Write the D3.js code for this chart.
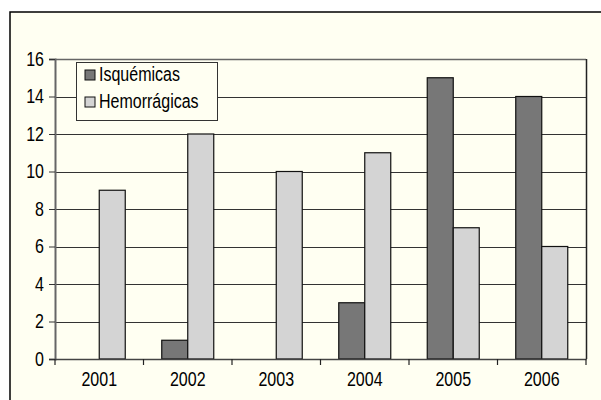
<!DOCTYPE html>
<html><head><meta charset="utf-8">
<script src="https://cdn.jsdelivr.net/npm/d3@7"></script>
<style>
html,body{margin:0;padding:0;background:#fff;}
svg{display:block;}
text{font-family:"Liberation Sans",Arial,Helvetica,sans-serif;fill:#000;}
</style></head>
<body>
<svg id="chart" width="601" height="400"></svg>
<script>
const years = ["2001","2002","2003","2004","2005","2006"];
const seriesNames = ["Isquémicas","Hemorrágicas"];
const isquemicas = [0,1,0,3,15,14];
const hemorragicas = [9,12,10,11,7,6];
const yTicks = [0,2,4,6,8,10,12,14,16];
const colors = ["#777777","#d4d4d4"];

const FS = 20, SX = 0.8;
const svg = d3.select("#chart");
const L=55, R=586, T=59, B=359;

// outer frame
svg.append("rect").attr("x",10).attr("y",12).attr("width",600).attr("height",400)
  .attr("fill","#fffff2").attr("stroke","#000").attr("stroke-width",1.5);

const x = d3.scaleBand().domain(years).range([L,R]);
const x1 = d3.scaleBand().domain(seriesNames).range([0,x.bandwidth()]).paddingOuter(0.702);
const y = d3.scaleLinear().domain([0,16]).range([B,T]);

// gridlines
svg.append("g").selectAll("line").data(yTicks.filter(t=>t>0 && t<16)).join("line")
  .attr("x1",L).attr("x2",R).attr("y1",d=>Math.round(y(d))+0.5).attr("y2",d=>Math.round(y(d))+0.5)
  .attr("stroke","#333").attr("stroke-width",1);
svg.append("line").attr("x1",L).attr("x2",R).attr("y1",T+0.5).attr("y2",T+0.5).attr("stroke","#666").attr("stroke-width",1.5);
svg.append("line").attr("x1",R+0.5).attr("x2",R+0.5).attr("y1",T).attr("y2",B).attr("stroke","#222").attr("stroke-width",1.5);

// bars
const rows = years.map((yr,i)=>({year:yr, vals:[isquemicas[i],hemorragicas[i]]}));
const g = svg.append("g");
rows.forEach(r=>{
  r.vals.forEach((v,j)=>{
    if(v<=0) return;
    g.append("rect")
      .attr("x",x(r.year)+x1(seriesNames[j]))
      .attr("y",y(v))
      .attr("width",x1.bandwidth())
      .attr("height",y(0)-y(v))
      .attr("fill",colors[j]).attr("stroke","#111").attr("stroke-width",1.2);
  });
});

// y axis
const yAxis = d3.axisLeft(y).tickValues(yTicks).tickSize(6).tickPadding(5).tickFormat(d3.format("d"));
const ya = svg.append("g").attr("transform",`translate(${L},0)`).call(yAxis);
ya.select(".domain").attr("stroke","#666").attr("stroke-width",2);
ya.selectAll(".tick line").attr("stroke","#333");
ya.selectAll("text").attr("font-size",FS).attr("font-family",null).attr("fill","#000")
  .attr("transform",`translate(-11,0) scale(${SX},1)`).attr("x",0);

// x axis
const xa = svg.append("g").attr("transform",`translate(0,${B})`)
  .call(d3.axisBottom(x).tickSize(0).tickPadding(13));
xa.select(".domain").attr("stroke","#444").attr("stroke-width",1.5);
xa.selectAll("text").attr("font-size",FS).attr("font-family",null).attr("fill","#000")
  .attr("transform",`scale(${SX},1)`);
const bounds = years.map(d=>x(d)).concat([x(years[years.length-1])+x.bandwidth()]);
svg.append("g").selectAll("line").data(bounds).join("line")
  .attr("x1",d=>d).attr("x2",d=>d).attr("y1",B).attr("y2",B+6)
  .attr("stroke","#222").attr("stroke-width",1.2);

// legend
const lg = svg.append("g");
lg.append("rect").attr("x",76.5).attr("y",62.5).attr("width",141).attr("height",58)
  .attr("fill","#fffff2").attr("stroke","#333").attr("stroke-width",1);
seriesNames.forEach((s,i)=>{
  const yy = 70 + i*27;
  lg.append("rect").attr("x",85).attr("y",yy).attr("width",10).attr("height",10)
    .attr("fill",colors[i]).attr("stroke","#111").attr("stroke-width",1);
  lg.append("text").attr("transform",`translate(99,${yy+11}) scale(${SX},1)`)
    .attr("font-size",FS).text(s);
});
</script>
</body></html>
